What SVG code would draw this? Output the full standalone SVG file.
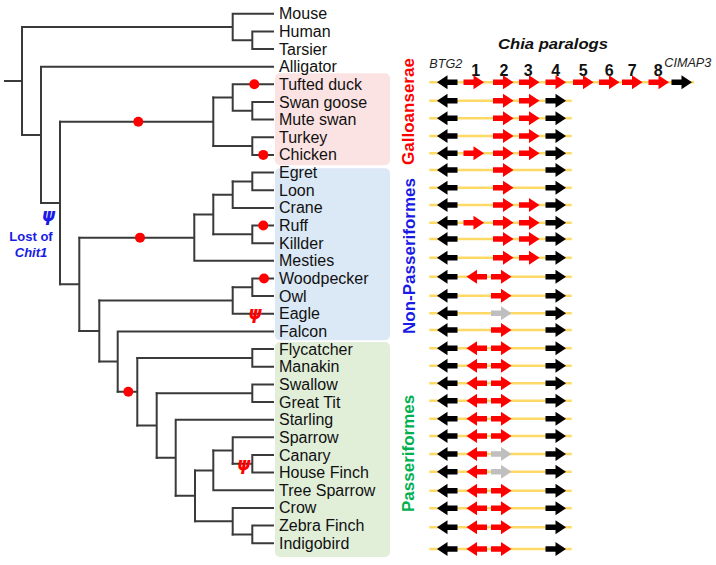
<svg xmlns="http://www.w3.org/2000/svg" xmlns:xlink="http://www.w3.org/1999/xlink" width="716" height="565" viewBox="0 0 716 565">
<style>
.lbl{font-family:"Liberation Sans",Arial,sans-serif;font-size:16px;fill:#111}
.tree{fill:none;stroke:#3a3a3a;stroke-width:2;stroke-linecap:square}
.dot{fill:#ff0000}
.psi{font-family:"DejaVu Sans","Liberation Sans",sans-serif;font-weight:bold;font-style:italic;font-size:17px;text-anchor:middle}
.grp{font-family:"Liberation Sans",Arial,sans-serif;font-weight:bold;font-size:17px;text-anchor:middle}
.gene{stroke:#ffd966;stroke-width:2.5}
.red{fill:#ff0000}
.blk{fill:#000000}
.gry{fill:#bfbfbf}
.num{font-family:"Liberation Sans",Arial,sans-serif;font-weight:bold;font-size:16px;text-anchor:middle;fill:#111}
.ital{font-family:"Liberation Sans",Arial,sans-serif;font-style:italic;font-size:12px;fill:#222}
</style>
<defs>
<path id="ra" d="M0,-2.7H10V-7L20.5,0L10,7V2.7H0Z"/>
<path id="la" d="M20.5,-2.7H10.5V-7L0,0L10.5,7V2.7H20.5Z"/>
</defs>
<rect width="716" height="565" fill="#ffffff"/>

<g id="clade-boxes">
<rect x="275" y="73.3" width="115" height="92" rx="5" fill="#fce3e3"/>
<rect x="275" y="168.3" width="115" height="172" rx="5" fill="#dbe8f5"/>
<rect x="275" y="342" width="115" height="215" rx="5" fill="#e1efd9"/>
</g>

<g id="connectors" class="tree">
<path d="M5,80.95H22M22,27V134.9"/>
<path d="M22,27H232.7M232.7,13.7V40.2M232.7,13.7H273M232.7,40.2H252.3M252.3,31.4V49M252.3,31.4H273M252.3,49H273"/>
<path d="M22,134.9H41M41,66.7V203.1M41,66.7H273"/>
<path d="M41,203.1H60M60,121.8V284.35"/>
<path d="M60,121.8H213.3M213.3,97.55V146.1"/>
<path d="M213.3,97.55H232.7M232.7,84.3V110.8M232.7,84.3H273M232.7,110.8H252.3M252.3,102V119.6M252.3,102H273M252.3,119.6H273"/>
<path d="M213.3,146.1H252.3M252.3,137.3V154.9M252.3,137.3H273M252.3,154.9H273"/>
<path d="M60,284.35H79.3M79.3,237.65V331.05"/>
<path d="M79.3,237.65H194.3M194.3,214.5V260.8M194.3,260.8H273"/>
<path d="M194.3,214.5H213.3M213.3,194.65V234.35"/>
<path d="M213.3,194.65H232.7M232.7,181.4V207.9M232.7,207.9H273"/>
<path d="M232.7,181.4H252.3M252.3,172.6V190.2M252.3,172.6H273M252.3,190.2H273"/>
<path d="M213.3,234.35H252.3M252.3,225.5V243.2M252.3,225.5H273M252.3,243.2H273"/>
<path d="M79.3,331.05H99.3M99.3,300.55V361.55"/>
<path d="M99.3,300.55H232.7M232.7,287.3V313.8M232.7,313.8H273"/>
<path d="M232.7,287.3H252.3M252.3,278.5V296.1M252.3,278.5H273M252.3,296.1H273"/>
<path d="M99.3,361.55H117.7M117.7,331.4V391.7M117.7,331.4H273"/>
<path d="M117.7,391.7H137.3M137.3,357.9V425.5"/>
<path d="M137.3,357.9H252.3M252.3,349.1V366.7M252.3,349.1H273M252.3,366.7H273"/>
<path d="M137.3,425.5H156.7M156.7,393.2V457.75"/>
<path d="M156.7,393.2H252.3M252.3,384.4V402M252.3,384.4H273M252.3,402H273"/>
<path d="M156.7,457.75H175.7M175.7,419.7V495.8M175.7,419.7H273"/>
<path d="M175.7,495.8H195M195,470.4V521.15"/>
<path d="M195,470.4H213.3M213.3,450.55V490.3M213.3,490.3H273"/>
<path d="M213.3,450.55H232.7M232.7,437.3V463.8M232.7,437.3H273"/>
<path d="M232.7,463.8H252.3M252.3,455V472.6M252.3,455H273M252.3,472.6H273"/>
<path d="M195,521.15H232.7M232.7,507.9V534.4M232.7,507.9H273"/>
<path d="M232.7,534.4H252.3M252.3,525.6V543.2M252.3,525.6H273M252.3,543.2H273"/>
</g>

<g id="events">
<circle class="dot" cx="138.3" cy="121.8" r="5"/>
<circle class="dot" cx="254.3" cy="84.3" r="5"/>
<circle class="dot" cx="263.3" cy="154.9" r="5"/>
<circle class="dot" cx="140" cy="237.65" r="5"/>
<circle class="dot" cx="263.3" cy="225.5" r="5"/>
<circle class="dot" cx="264" cy="278.5" r="5"/>
<circle class="dot" cx="128.3" cy="391.7" r="5"/>
<text class="psi" x="48.5" y="220.5" fill="#1a1ae6">ψ</text>
<text class="psi" x="255" y="319" fill="#ff0000">ψ</text>
<text class="psi" x="243.7" y="470" fill="#ff0000">ψ</text>
<text x="31" y="240.5" font-family="Liberation Sans, Arial, sans-serif" font-weight="bold" font-size="13" fill="#1a1ae6" text-anchor="middle">Lost of</text>
<text x="31" y="256.5" font-family="Liberation Sans, Arial, sans-serif" font-weight="bold" font-style="italic" font-size="13" fill="#1a1ae6" text-anchor="middle">Chit1</text>
</g>

<g id="leaves" class="lbl">
<g id="n-mouse"><text x="279" y="19.2">Mouse</text></g>
<g id="n-human"><text x="279" y="36.9">Human</text></g>
<g id="n-tarsier"><text x="279" y="54.5">Tarsier</text></g>
<g id="n-alligator"><text x="279" y="72.2">Alligator</text></g>
<g id="n-tufted-duck"><text x="279" y="89.8">Tufted duck</text></g>
<g id="n-swan-goose"><text x="279" y="107.5">Swan goose</text></g>
<g id="n-mute-swan"><text x="279" y="125.1">Mute swan</text></g>
<g id="n-turkey"><text x="279" y="142.8">Turkey</text></g>
<g id="n-chicken"><text x="279" y="160.4">Chicken</text></g>
<g id="n-egret"><text x="279" y="178.1">Egret</text></g>
<g id="n-loon"><text x="279" y="195.7">Loon</text></g>
<g id="n-crane"><text x="279" y="213.4">Crane</text></g>
<g id="n-ruff"><text x="279" y="231">Ruff</text></g>
<g id="n-killder"><text x="279" y="248.7">Killder</text></g>
<g id="n-mesties"><text x="279" y="266.3">Mesties</text></g>
<g id="n-woodpecker"><text x="279" y="284">Woodpecker</text></g>
<g id="n-owl"><text x="279" y="301.6">Owl</text></g>
<g id="n-eagle"><text x="279" y="319.3">Eagle</text></g>
<g id="n-falcon"><text x="279" y="336.9">Falcon</text></g>
<g id="n-flycatcher"><text x="279" y="354.6">Flycatcher</text></g>
<g id="n-manakin"><text x="279" y="372.2">Manakin</text></g>
<g id="n-swallow"><text x="279" y="389.9">Swallow</text></g>
<g id="n-great-tit"><text x="279" y="407.5">Great Tit</text></g>
<g id="n-starling"><text x="279" y="425.2">Starling</text></g>
<g id="n-sparrow"><text x="279" y="442.8">Sparrow</text></g>
<g id="n-canary"><text x="279" y="460.5">Canary</text></g>
<g id="n-house-finch"><text x="279" y="478.1">House Finch</text></g>
<g id="n-tree-sparrow"><text x="279" y="495.8">Tree Sparrow</text></g>
<g id="n-crow"><text x="279" y="513.4">Crow</text></g>
<g id="n-zebra-finch"><text x="279" y="531.1">Zebra Finch</text></g>
<g id="n-indigobird"><text x="279" y="548.7">Indigobird</text></g>
</g>

<g id="groups">
<text class="grp" fill="#ff0000" transform="translate(414,111.5) rotate(-90)">Galloanserae</text>
<text class="grp" fill="#1a1ae6" transform="translate(414.5,256) rotate(-90)">Non-Passeriformes</text>
<text class="grp" fill="#00b050" transform="translate(414,453.4) rotate(-90)">Passeriformes</text>
</g>

<g id="header">
<text x="498" y="48.5" font-family="Liberation Sans, Arial, sans-serif" font-weight="bold" font-style="italic" font-size="15.5" textLength="110" lengthAdjust="spacingAndGlyphs" fill="#111">Chia paralogs</text>
<text class="ital" x="429.3" y="67.5" textLength="33" lengthAdjust="spacingAndGlyphs">BTG2</text>
<text class="ital" x="664.3" y="67.3" textLength="47" lengthAdjust="spacingAndGlyphs">CIMAP3</text>
<text class="num" x="475.7" y="75.5">1</text>
<text class="num" x="504" y="75.5">2</text>
<text class="num" x="528.3" y="75.5">3</text>
<text class="num" x="555.7" y="75.5">4</text>
<text class="num" x="583.3" y="75.5">5</text>
<text class="num" x="609.3" y="75.5">6</text>
<text class="num" x="632.3" y="75.5">7</text>
<text class="num" x="658.3" y="75.5">8</text>
</g>

<g id="gene-rows">
<g id="r-tufted-duck"><line class="gene" x1="429.3" y1="82.3" x2="694" y2="82.3"/><use href="#la" class="blk" x="437" y="82.3"/><use href="#ra" class="red" x="463.5" y="82.3"/><use href="#ra" class="red" x="493" y="82.3"/><use href="#ra" class="red" x="519" y="82.3"/><use href="#ra" class="red" x="545.5" y="82.3"/><use href="#ra" class="red" x="573" y="82.3"/><use href="#ra" class="red" x="599" y="82.3"/><use href="#ra" class="red" x="622" y="82.3"/><use href="#ra" class="red" x="648.5" y="82.3"/><use href="#ra" class="blk" x="671.5" y="82.3"/></g>
<g id="r-swan-goose"><line class="gene" x1="429.3" y1="100.7" x2="571.7" y2="100.7"/><use href="#la" class="blk" x="437" y="100.7"/><use href="#ra" class="red" x="493" y="100.7"/><use href="#ra" class="red" x="519" y="100.7"/><use href="#ra" class="blk" x="545.5" y="100.7"/></g>
<g id="r-mute-swan"><line class="gene" x1="429.3" y1="118.3" x2="571.7" y2="118.3"/><use href="#la" class="blk" x="437" y="118.3"/><use href="#ra" class="red" x="493" y="118.3"/><use href="#ra" class="red" x="519" y="118.3"/><use href="#ra" class="blk" x="545.5" y="118.3"/></g>
<g id="r-turkey"><line class="gene" x1="429.3" y1="136" x2="571.7" y2="136"/><use href="#la" class="blk" x="437" y="136"/><use href="#ra" class="red" x="493" y="136"/><use href="#ra" class="red" x="519" y="136"/><use href="#ra" class="blk" x="545.5" y="136"/></g>
<g id="r-chicken"><line class="gene" x1="429.3" y1="153.3" x2="571.7" y2="153.3"/><use href="#la" class="blk" x="437" y="153.3"/><use href="#ra" class="red" x="463.5" y="153.3"/><use href="#ra" class="red" x="493" y="153.3"/><use href="#ra" class="red" x="519" y="153.3"/><use href="#ra" class="blk" x="545.5" y="153.3"/></g>
<g id="r-egret"><line class="gene" x1="429.3" y1="170" x2="571.7" y2="170"/><use href="#la" class="blk" x="437" y="170"/><use href="#ra" class="red" x="493" y="170"/><use href="#ra" class="blk" x="545.5" y="170"/></g>
<g id="r-loon"><line class="gene" x1="429.3" y1="187.7" x2="571.7" y2="187.7"/><use href="#la" class="blk" x="437" y="187.7"/><use href="#ra" class="red" x="493" y="187.7"/><use href="#ra" class="blk" x="545.5" y="187.7"/></g>
<g id="r-crane"><line class="gene" x1="429.3" y1="205" x2="571.7" y2="205"/><use href="#la" class="blk" x="437" y="205"/><use href="#ra" class="red" x="493" y="205"/><use href="#ra" class="red" x="519" y="205"/><use href="#ra" class="blk" x="545.5" y="205"/></g>
<g id="r-ruff"><line class="gene" x1="429.3" y1="222.7" x2="571.7" y2="222.7"/><use href="#la" class="blk" x="437" y="222.7"/><use href="#ra" class="red" x="463.5" y="222.7"/><use href="#ra" class="red" x="493" y="222.7"/><use href="#ra" class="red" x="519" y="222.7"/><use href="#ra" class="blk" x="545.5" y="222.7"/></g>
<g id="r-killder"><line class="gene" x1="429.3" y1="239" x2="571.7" y2="239"/><use href="#la" class="blk" x="437" y="239"/><use href="#ra" class="red" x="493" y="239"/><use href="#ra" class="red" x="519" y="239"/><use href="#ra" class="blk" x="545.5" y="239"/></g>
<g id="r-mesties"><line class="gene" x1="429.3" y1="257.7" x2="571.7" y2="257.7"/><use href="#la" class="blk" x="437" y="257.7"/><use href="#ra" class="red" x="493" y="257.7"/><use href="#ra" class="red" x="519" y="257.7"/><use href="#ra" class="blk" x="545.5" y="257.7"/></g>
<g id="r-woodpecker"><line class="gene" x1="429.3" y1="276.7" x2="571.7" y2="276.7"/><use href="#la" class="blk" x="437" y="276.7"/><use href="#la" class="red" x="466.5" y="276.7"/><use href="#ra" class="red" x="491" y="276.7"/><use href="#ra" class="blk" x="545.5" y="276.7"/></g>
<g id="r-owl"><line class="gene" x1="429.3" y1="295.7" x2="571.7" y2="295.7"/><use href="#la" class="blk" x="437" y="295.7"/><use href="#ra" class="red" x="491" y="295.7"/><use href="#ra" class="blk" x="545.5" y="295.7"/></g>
<g id="r-eagle"><line class="gene" x1="429.3" y1="313.3" x2="571.7" y2="313.3"/><use href="#la" class="blk" x="437" y="313.3"/><use href="#ra" class="gry" x="491" y="313.3"/><use href="#ra" class="blk" x="545.5" y="313.3"/></g>
<g id="r-falcon"><line class="gene" x1="429.3" y1="330" x2="571.7" y2="330"/><use href="#la" class="blk" x="437" y="330"/><use href="#ra" class="red" x="491" y="330"/><use href="#ra" class="blk" x="545.5" y="330"/></g>
<g id="r-flycatcher"><line class="gene" x1="429.3" y1="348.3" x2="571.7" y2="348.3"/><use href="#la" class="blk" x="437" y="348.3"/><use href="#la" class="red" x="466.5" y="348.3"/><use href="#ra" class="red" x="491" y="348.3"/><use href="#ra" class="blk" x="545.5" y="348.3"/></g>
<g id="r-manakin"><line class="gene" x1="429.3" y1="365.7" x2="571.7" y2="365.7"/><use href="#la" class="blk" x="437" y="365.7"/><use href="#la" class="red" x="466.5" y="365.7"/><use href="#ra" class="red" x="491" y="365.7"/><use href="#ra" class="blk" x="545.5" y="365.7"/></g>
<g id="r-swallow"><line class="gene" x1="429.3" y1="383.3" x2="571.7" y2="383.3"/><use href="#la" class="blk" x="437" y="383.3"/><use href="#la" class="red" x="466.5" y="383.3"/><use href="#ra" class="red" x="491" y="383.3"/><use href="#ra" class="blk" x="545.5" y="383.3"/></g>
<g id="r-great-tit"><line class="gene" x1="429.3" y1="400.7" x2="571.7" y2="400.7"/><use href="#la" class="blk" x="437" y="400.7"/><use href="#la" class="red" x="466.5" y="400.7"/><use href="#ra" class="red" x="491" y="400.7"/><use href="#ra" class="blk" x="545.5" y="400.7"/></g>
<g id="r-starling"><line class="gene" x1="429.3" y1="418.7" x2="571.7" y2="418.7"/><use href="#la" class="blk" x="437" y="418.7"/><use href="#la" class="red" x="466.5" y="418.7"/><use href="#ra" class="red" x="491" y="418.7"/><use href="#ra" class="blk" x="545.5" y="418.7"/></g>
<g id="r-sparrow"><line class="gene" x1="429.3" y1="436" x2="571.7" y2="436"/><use href="#la" class="blk" x="437" y="436"/><use href="#la" class="red" x="466.5" y="436"/><use href="#ra" class="red" x="491" y="436"/><use href="#ra" class="blk" x="545.5" y="436"/></g>
<g id="r-canary"><line class="gene" x1="429.3" y1="454" x2="571.7" y2="454"/><use href="#la" class="blk" x="437" y="454"/><use href="#la" class="red" x="466.5" y="454"/><use href="#ra" class="gry" x="491" y="454"/><use href="#ra" class="blk" x="545.5" y="454"/></g>
<g id="r-house-finch"><line class="gene" x1="429.3" y1="471.7" x2="571.7" y2="471.7"/><use href="#la" class="blk" x="437" y="471.7"/><use href="#la" class="red" x="466.5" y="471.7"/><use href="#ra" class="gry" x="491" y="471.7"/><use href="#ra" class="blk" x="545.5" y="471.7"/></g>
<g id="r-tree-sparrow"><line class="gene" x1="429.3" y1="490.7" x2="571.7" y2="490.7"/><use href="#la" class="blk" x="437" y="490.7"/><use href="#la" class="red" x="466.5" y="490.7"/><use href="#ra" class="red" x="491" y="490.7"/><use href="#ra" class="blk" x="545.5" y="490.7"/></g>
<g id="r-crow"><line class="gene" x1="429.3" y1="508.3" x2="571.7" y2="508.3"/><use href="#la" class="blk" x="437" y="508.3"/><use href="#la" class="red" x="466.5" y="508.3"/><use href="#ra" class="red" x="491" y="508.3"/><use href="#ra" class="blk" x="545.5" y="508.3"/></g>
<g id="r-zebra-finch"><line class="gene" x1="429.3" y1="527.3" x2="571.7" y2="527.3"/><use href="#la" class="blk" x="437" y="527.3"/><use href="#la" class="red" x="466.5" y="527.3"/><use href="#ra" class="red" x="491" y="527.3"/><use href="#ra" class="blk" x="545.5" y="527.3"/></g>
<g id="r-indigobird"><line class="gene" x1="429.3" y1="549" x2="571.7" y2="549"/><use href="#la" class="blk" x="437" y="549"/><use href="#la" class="red" x="466.5" y="549"/><use href="#ra" class="red" x="491" y="549"/><use href="#ra" class="blk" x="545.5" y="549"/></g>
</g>
</svg>
